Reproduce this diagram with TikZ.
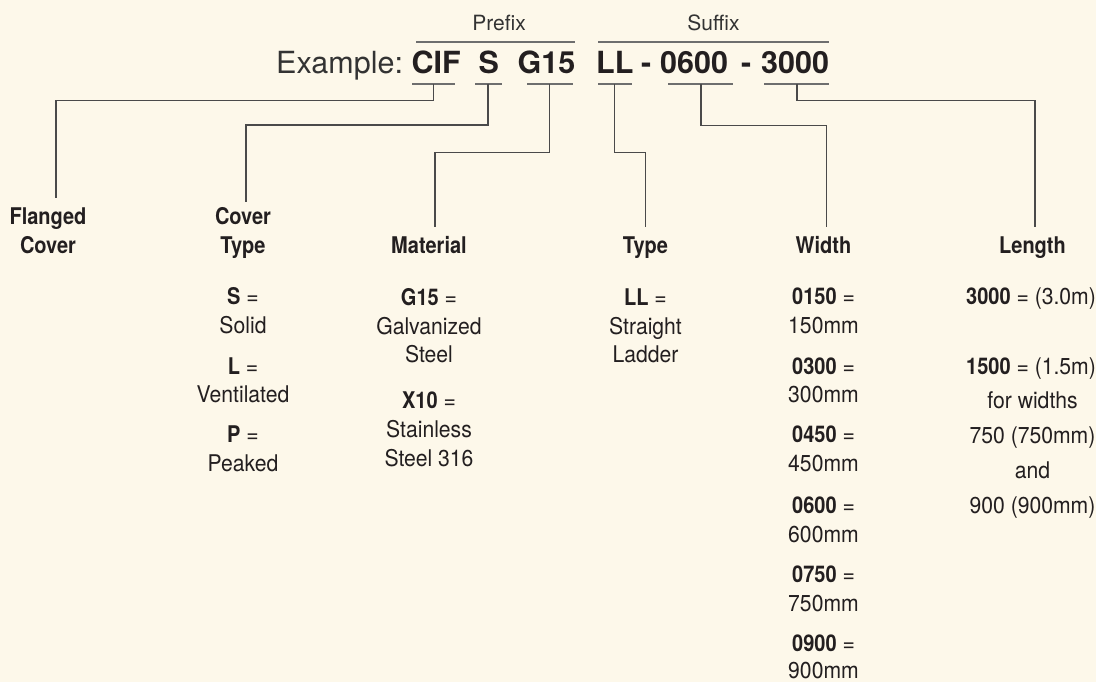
\documentclass[tikz,border=0pt]{standalone}
\usepackage{fontspec}
\setmainfont{TeX Gyre Heros}
\newfontfamily\condr[FakeStretch=0.92]{TeX Gyre Heros}
\newfontfamily\condb[FakeStretch=0.87]{TeX Gyre Heros}
\newcommand\kb[1]{{\condb\bfseries #1}}
\definecolor{bgcol}{HTML}{FDF8EA}
\definecolor{ink}{HTML}{231F20}
\definecolor{soft}{HTML}{333333}
\definecolor{rule}{HTML}{6E6E6E}
\definecolor{conncol}{HTML}{4A4A4A}
\begin{document}
\begin{tikzpicture}[x=1pt,y=-1pt,
  lbl/.style={font=\condr\fontsize{23}{28}\selectfont, text=ink, inner sep=0pt, anchor=base},
  head/.style={font=\condb\bfseries\fontsize{23}{28}\selectfont, text=ink, inner sep=0pt, anchor=base},
  code/.style={font=\bfseries\fontsize{30.5}{34}\selectfont, text=ink, inner sep=0pt, anchor=base west},
  light/.style={font=\fontsize{30.5}{34}\selectfont, text=soft, inner sep=0pt, anchor=base west},
  captext/.style={font=\fontsize{21}{24}\selectfont, text=soft, inner sep=0pt, anchor=base},
  rulel/.style={draw=rule, line width=1.5pt},
  conn/.style={draw=conncol, line width=1.2pt}]
\fill[bgcol] (0,0) rectangle (1096,682);
\useasboundingbox (0,0) rectangle (1096,682);

% header
\node[captext] (prefix) at (499,30.7) {Prefix};
\node[captext] (suffix) at (713.5,30.7) {Suffix};
\draw[rulel] (416,42) -- (575,42);
\draw[rulel] (598,42) -- (829,42);
\node[light] (example) at (276,73.3) {Example:};
\node[code] (cif) at (411.5,73.3) {CIF};
\node[code] (s) at (478.5,73.3) {S};
\node[code] (g15) at (517.5,73.3) {G15};
\node[code] (ll) at (596,73.3) {LL};
\node[code] (dasha) at (641,73.3) {-};
\node[code] (w) at (660,73.3) {0600};
\node[code] (dashb) at (741,73.3) {-};
\node[code] (len) at (761,73.3) {3000};
\draw[rulel] (412,84) -- (455,84);
\draw[rulel] (475,84) -- (502,84);
\draw[rulel] (527,84) -- (573,84);
\draw[rulel] (598,84) -- (632,84);
\draw[rulel] (668,84) -- (733,84);
\draw[rulel] (764,84) -- (829,84);

% connector coordinates
\coordinate (tcif) at (433.5,84);  \coordinate (bcif) at (433.5,100.7); \coordinate (ecif) at (56,198);
\coordinate (ts) at (488,84);      \coordinate (bs) at (488,125);       \coordinate (es) at (246,202);
\coordinate (tg) at (549.5,84);    \coordinate (bgm) at (549.5,152.5);  \coordinate (eg) at (435,227);
\coordinate (tll) at (614.5,84);   \coordinate (bll) at (614.5,152.5);  \coordinate (ell) at (645.7,227);
\coordinate (tw) at (701,84);      \coordinate (bw) at (701,125.5);     \coordinate (ew) at (826.7,227);
\coordinate (tl) at (797,84);      \coordinate (bl) at (797,100.7);     \coordinate (el) at (1035,227);
\draw[conn] (tcif) -- (bcif) -| (ecif);
\draw[conn] (ts) -- (bs) -| (es);
\draw[conn] (tg) -- (bgm) -| (eg);
\draw[conn] (tll) -- (bll) -| (ell);
\draw[conn] (tw) -- (bw) -| (ew);
\draw[conn] (tl) -- (bl) -| (el);

% Flanged cover
\node[head] (fc1) at (48,225) {Flanged};
\node[head] (fc2) at (48,253.3) {Cover};
% Cover type
\node[head] (ct1) at (243,225) {Cover};
\node[head] (ct2) at (243,253.3) {Type};
\node[lbl] (ct3) at (243,304.3) {\kb{S} =};
\node[lbl] (ct4) at (243,333.3) {Solid};
\node[lbl] (ct5) at (243,374) {\kb{L} =};
\node[lbl] (ct6) at (243,402.7) {Ventilated};
\node[lbl] (ct7) at (243,442.7) {\kb{P} =};
\node[lbl] (ct8) at (243,471.7) {Peaked};
% Material
\node[head] (m1) at (429,253.3) {Material};
\node[lbl] (m2) at (429,305) {\kb{G15} =};
\node[lbl] (m3) at (429,334) {Galvanized};
\node[lbl] (m4) at (429,362) {Steel};
\node[lbl] (m5) at (429,408.3) {\kb{X10} =};
\node[lbl] (m6) at (429,437.5) {Stainless};
\node[lbl] (m7) at (429,466) {Steel 316};
% Type
\node[head] (ty1) at (645.5,253.3) {Type};
\node[lbl] (ty2) at (645.5,305) {\kb{LL} =};
\node[lbl] (ty3) at (645.5,334) {Straight};
\node[lbl] (ty4) at (645.5,362) {Ladder};
% Width
\node[head] (wd1) at (823.5,253.3) {Width};
\node[lbl] (wd2) at (823.5,304.3) {\kb{0150} =};
\node[lbl] (wd3) at (823.5,333.3) {150mm};
\node[lbl] (wd4) at (823.5,374) {\kb{0300} =};
\node[lbl] (wd5) at (823.5,402.7) {300mm};
\node[lbl] (wd6) at (823.5,442.7) {\kb{0450} =};
\node[lbl] (wd7) at (823.5,471.7) {450mm};
\node[lbl] (wd8) at (823.5,513.3) {\kb{0600} =};
\node[lbl] (wd9) at (823.5,542.3) {600mm};
\node[lbl] (wd10) at (823.5,582.7) {\kb{0750} =};
\node[lbl] (wd11) at (823.5,611.7) {750mm};
\node[lbl] (wd12) at (823.5,651.7) {\kb{0900} =};
\node[lbl] (wd13) at (823.5,678) {900mm};
% Length
\node[head] (lg1) at (1032.5,253.3) {Length};
\node[lbl] (lg2) at (1031,304.3) {\kb{3000} = (3.0m)};
\node[lbl] (lg3) at (1031,374) {\kb{1500} = (1.5m)};
\node[lbl] (lg4) at (1032.5,408.5) {for widths};
\node[lbl] (lg5) at (1032.5,443) {750 (750mm)};
\node[lbl] (lg6) at (1032.5,478) {and};
\node[lbl] (lg7) at (1032.5,513) {900 (900mm)};
\end{tikzpicture}
\end{document}
